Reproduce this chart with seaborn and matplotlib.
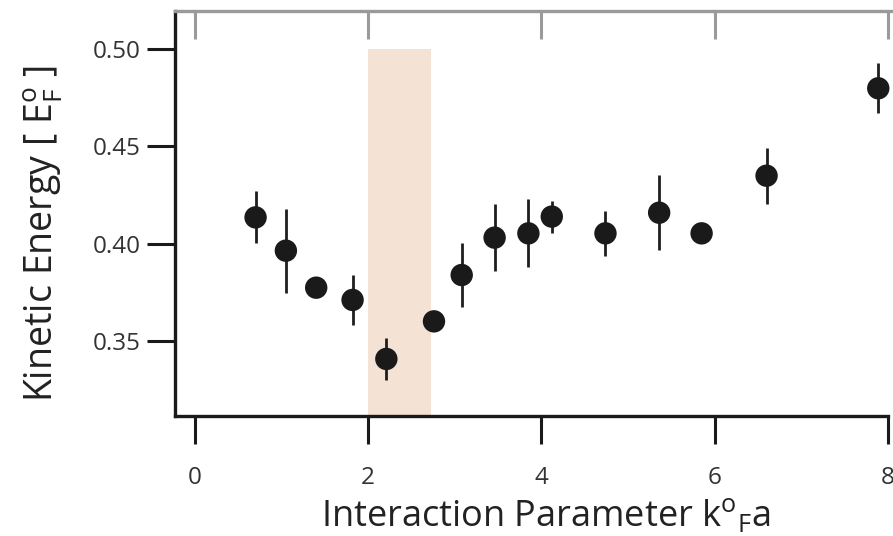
import matplotlib
matplotlib.use("Agg")
import matplotlib.pyplot as plt
import seaborn as sns
import pandas as pd

# data
k_a = [0.70, 1.05, 1.40, 1.82, 2.21, 2.76, 3.08, 3.46, 3.85, 4.12, 4.74, 5.36, 5.85, 6.60, 7.89]
energy = [0.4135, 0.3964, 0.3774, 0.3711, 0.3408, 0.3601, 0.3839, 0.4031, 0.4053, 0.4139,
          0.4053, 0.4159, 0.4053, 0.4349, 0.4798]
err = [0.0133, 0.0215, 0.003, 0.0128, 0.011, 0.003, 0.0166, 0.0172, 0.0174, 0.0082,
       0.0116, 0.0193, 0.003, 0.0144, 0.0128]
band = [2.0, 2.73]
band_top = 0.50
xticks = [0, 2, 4, 6, 8]
yticks = [0.35, 0.40, 0.45, 0.50]

df = pd.DataFrame({"k": k_a, "E": energy, "err": err})

sns.set_style("white")
plt.rcParams["font.family"] = ["Open Sans", "DejaVu Sans"]
plt.rcParams["mathtext.fontset"] = "custom"
plt.rcParams["mathtext.rm"] = "Open Sans"
plt.rcParams["mathtext.it"] = "Open Sans"

fig = plt.figure(figsize=(8.93, 5.36), dpi=100)
ax = fig.add_axes([0.196, 0.2239, 0.804, 0.7556])

xmin, xmax = -0.23, 8.06
ymin, ymax = 0.3115, 0.5195
ax.set_xlim(xmin, xmax)
ax.set_ylim(ymin, ymax)

ax.fill_between(band, [ymin, ymin], [band_top, band_top], color="#F4E2D4", lw=0, zorder=0)

ax.errorbar(df["k"], df["E"], yerr=df["err"], fmt="none", ecolor="#1e1e1e", elinewidth=2.0,
            capsize=0, zorder=2)
sns.scatterplot(data=df, x="k", y="E", ax=ax, color="#1a1a1a", s=260, edgecolor="none",
                zorder=3, legend=False)

ax.set_xticks(xticks)
ax.set_yticks(yticks)
ax.set_xticklabels([str(t) for t in xticks])
ax.set_yticklabels([f"{t:.2f}" for t in yticks])

for side in ["left", "bottom"]:
    ax.spines[side].set_color("#1a1a1a")
    ax.spines[side].set_linewidth(2.4)
ax.spines["bottom"].set_bounds(xmin, 8.0)
ax.spines["top"].set_color("#9a9a9a")
ax.spines["top"].set_linewidth(2.4)
ax.spines["right"].set_visible(False)

ax.tick_params(axis="x", bottom=True, top=False, direction="out", length=20,
               width=2.2, color="#1a1a1a", pad=16, labelsize=17.5, labelcolor="#333333")
ax.tick_params(axis="y", direction="out", length=20, width=2.2, color="#1a1a1a", pad=5,
               labelsize=17.5, labelcolor="#333333", right=False, left=True)

# gray inward ticks on top
top = ax.secondary_xaxis("top")
top.set_xticks(xticks)
top.tick_params(axis="x", direction="in", length=20, width=2.2, color="#9a9a9a",
                labeltop=False)
top.spines["top"].set_visible(False)

ax.set_xlabel(r"Interaction Parameter k$^{\mathrm{o}}$$_{\mathrm{F}}$a", fontsize=26,
              color="#222222", labelpad=5)
ax.xaxis.label.set_x(0.517)
ax.set_ylabel(r"Kinetic Energy [ E$^{\mathrm{o}}_{\mathrm{F}}$ ]", fontsize=27,
              color="#222222", labelpad=20)
ax.yaxis.label.set_y(0.45)

fig.savefig("out.png", dpi=100)
